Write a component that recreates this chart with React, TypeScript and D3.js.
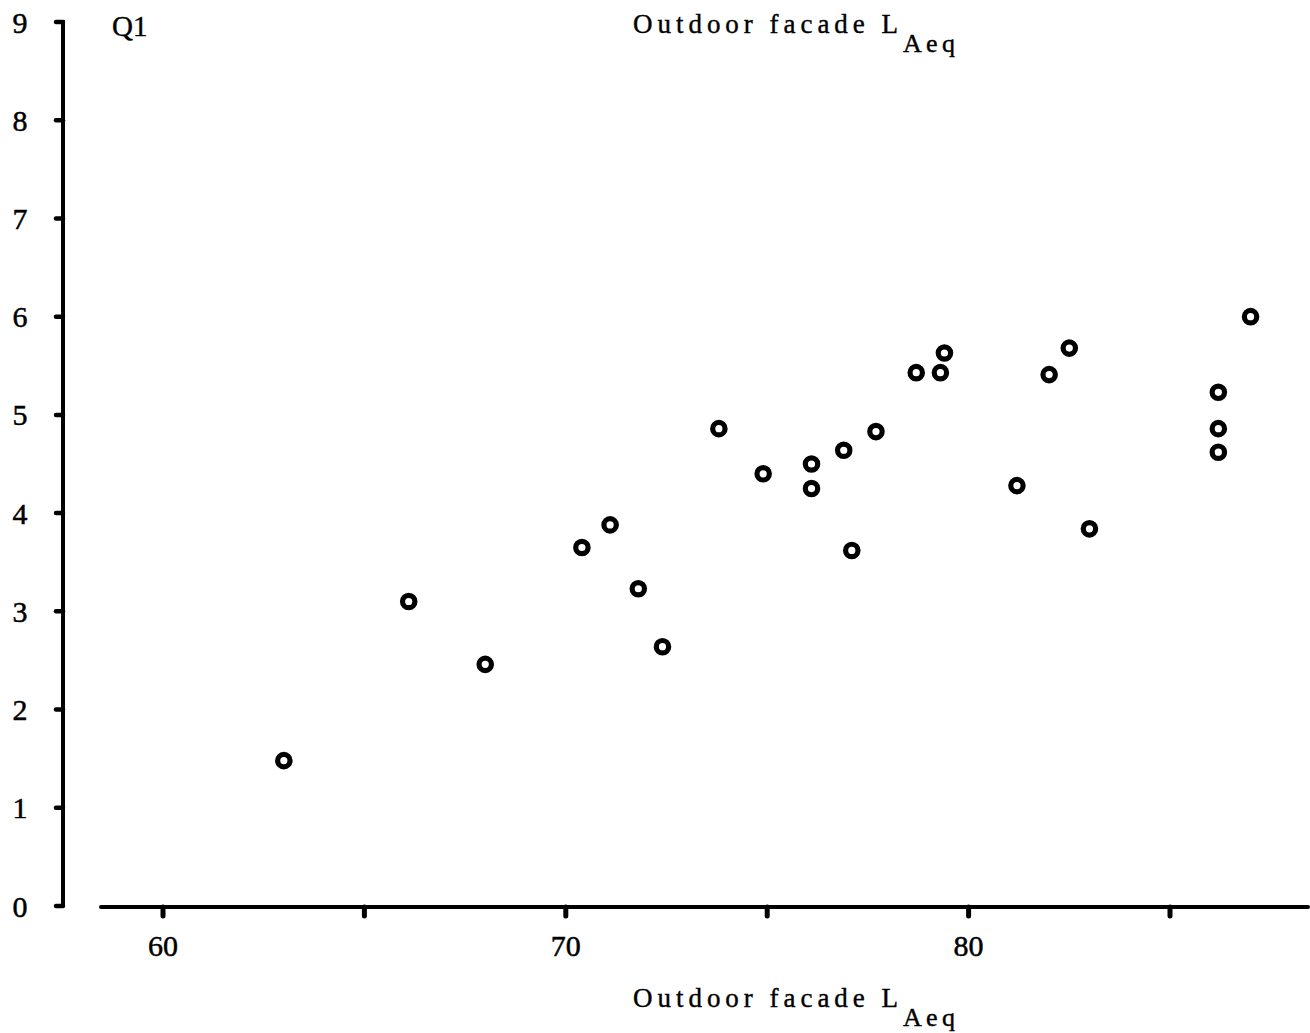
import React from 'react';
import * as d3 from 'd3';

// Outdoor facade LAeq (dB) vs. Q1 rating
const facadeLAeq = [
  63.0, 66.1, 68.0, 70.4, 71.1, 71.8, 72.4, 73.8, 74.9, 76.1, 76.1, 76.9, 77.1,
  77.7, 78.7, 79.3, 79.4, 81.2, 82.0, 82.5, 83.0, 86.2, 86.2, 86.2, 87.0,
];
const q1Score = [
  1.48, 3.1, 2.46, 3.65, 3.88, 3.23, 2.64, 4.86, 4.4, 4.5, 4.25, 4.64, 3.62,
  4.83, 5.43, 5.43, 5.63, 4.28, 5.41, 5.68, 3.84, 5.23, 4.86, 4.62, 6.0,
];
const xTicks = [60, 65, 70, 75, 80, 85];
const xTickLabels = [60, 70, 80];
const yTicks = [0, 1, 2, 3, 4, 5, 6, 7, 8, 9];

const W = 1310;
const H = 1033;
const serif = '"Liberation Serif", "Times New Roman", serif';

const AxisTitle = ({ y }: { y: number }) => (
  <g fontFamily={serif} fill="#000" stroke="#000" strokeWidth={0.4}>
    <text x={633} y={y} fontSize={27} textLength={265} lengthAdjust="spacing">
      Outdoor facade L
    </text>
    <text x={903} y={y + 19} fontSize={26} textLength={52} lengthAdjust="spacing">
      Aeq
    </text>
  </g>
);

const App = () => {
  const x = d3.scaleLinear().domain([60, 85]).range([163, 1170]);
  const y = d3.scaleLinear().domain([0, 9]).range([906, 22]);
  const axisX = 63;
  const axisY = 907;

  const points = facadeLAeq.map((v, i) => ({ lx: v, q: q1Score[i] }));

  return (
    <svg width={W} height={H} style={{ position: 'absolute', left: 0, top: 0, background: '#fff' }}>
      {/* y axis */}
      <line x1={axisX} x2={axisX} y1={y(9) - 2} y2={y(0)} stroke="#000" strokeWidth={4} />
      {yTicks.map(t => (
        <g key={'y' + t}>
          <line x1={axisX - 7} x2={axisX} y1={y(t)} y2={y(t)} stroke="#000" strokeWidth={4.5} strokeLinecap="round" />
          <text x={20} y={y(t)} dy="0.35em" textAnchor="middle" fontFamily={serif} fontSize={30}
            fill="#000" stroke="#000" strokeWidth={0.5}>
            {t}
          </text>
        </g>
      ))}

      {/* x axis */}
      <line x1={101} x2={1308} y1={axisY} y2={axisY} stroke="#000" strokeWidth={4} strokeLinecap="round" />
      {xTicks.map(t => (
        <line key={'x' + t} x1={x(t)} x2={x(t)} y1={axisY} y2={axisY + 9} stroke="#000" strokeWidth={5} strokeLinecap="round" />
      ))}
      {xTickLabels.map(t => (
        <text key={'xl' + t} x={x(t)} y={956} textAnchor="middle" fontFamily={serif} fontSize={30}
          fill="#000" stroke="#000" strokeWidth={0.5}>
          {t}
        </text>
      ))}

      {/* points */}
      {points.map((d, i) => (
        <circle key={i} cx={x(d.lx)} cy={y(d.q)} r={6.2} fill="none" stroke="#000" strokeWidth={5.2} />
      ))}

      {/* labels */}
      <text x={112} y={36} fontFamily={serif} fontSize={29} fill="#000" stroke="#000" strokeWidth={0.4}>Q1</text>
      <AxisTitle y={33} />
      <AxisTitle y={1007} />
    </svg>
  );
};

export default App;
